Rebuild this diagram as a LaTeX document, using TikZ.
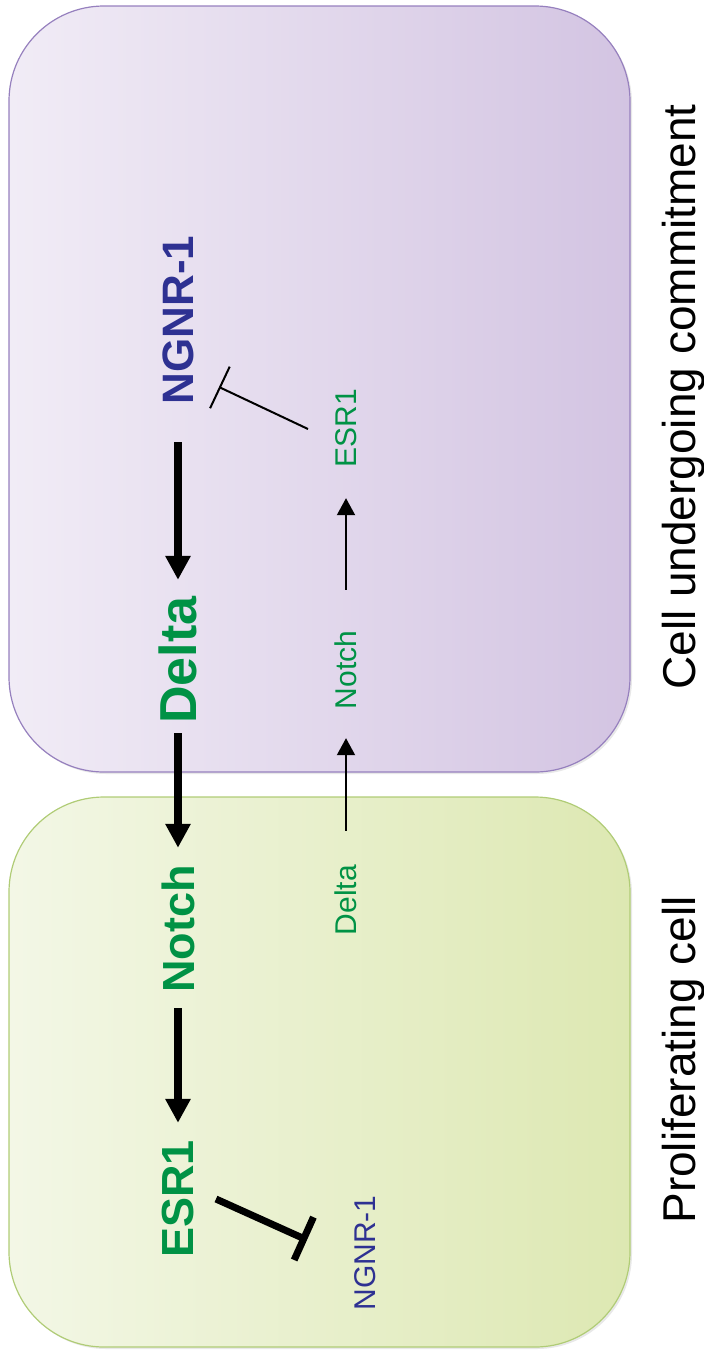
\documentclass[tikz,border=0pt]{standalone}
\usepackage{fontspec}
\setmainfont{Liberation Sans}
\usetikzlibrary{arrows.meta,shadows}
\definecolor{geneblue}{RGB}{46,49,146}
\definecolor{genegreen}{RGB}{0,146,69}
\definecolor{purpL}{RGB}{241,236,246}
\definecolor{purpR}{RGB}{211,196,226}
\definecolor{purpB}{RGB}{150,128,190}
\definecolor{grnL}{RGB}{243,247,230}
\definecolor{grnR}{RGB}{221,232,178}
\definecolor{grnB}{RGB}{176,204,118}
\begin{document}
\begin{tikzpicture}[x=1pt,y=-1pt,
  cellbox/.style={rounded corners=95pt, line width=1.2pt,
    drop shadow={opacity=0.18, shadow xshift=2pt, shadow yshift=-2pt}},
  biglbl/.style={rotate=90, inner sep=0pt, font=\bfseries\fontsize{45}{54}\selectfont},
  smalllbl/.style={rotate=90, inner sep=0pt, font=\fontsize{30}{36}\selectfont},
  celllbl/.style={rotate=90, inner sep=0pt, anchor=base, font=\fontsize{46}{55}\selectfont},
  bigarrow/.style={-{Triangle[length=24pt,width=24pt]}, line width=7.5pt},
  thinarrow/.style={-{Triangle[length=17pt,width=18pt]}, line width=2pt},
  thininh/.style={-{Bar[width=46pt]}, line width=2pt},
  thickinh/.style={-{Bar[width=47pt]}, line width=7pt}
]
\useasboundingbox (0,0) rectangle (704,1353);
% cell boxes
\path[cellbox, draw=purpB, left color=purpL, right color=purpR] (9,6) rectangle (630,772);
\path[cellbox, draw=grnB, left color=grnL, right color=grnR] (9,797) rectangle (630,1347);
% cell labels
\node[celllbl] (lblcommit) at (695,397) {Cell undergoing commitment};
\node[celllbl] (lblprolif) at (695,1060) {Proliferating cell};
% big labels (left column)
\node[biglbl, text=geneblue, font=\bfseries\fontsize{44}{53}\selectfont] (ngnr) at (178,320) {NGNR-1};
\node[biglbl, text=genegreen, font=\bfseries\fontsize{52}{62}\selectfont] (delta) at (178,660) {Delta};
\node[biglbl, text=genegreen] (notch) at (178,929) {Notch};
\node[biglbl, text=genegreen] (esr) at (178,1199) {ESR1};
% small labels (right column)
\node[smalllbl, text=genegreen] (esrs) at (346,428) {ESR1};
\node[smalllbl, text=genegreen] (notchs) at (346,670) {Notch};
\node[smalllbl, text=genegreen] (deltas) at (346,900) {Delta};
\node[smalllbl, text=geneblue] (ngnrs) at (365,1253) {NGNR-1};
% big arrows
\draw[bigarrow, shorten <=37.7pt, shorten >=16.4pt] (ngnr) -- (delta);
\draw[bigarrow, shorten <=9.4pt, shorten >=17.3pt] (delta) -- (notch);
\draw[bigarrow, shorten <=15.3pt, shorten >=17.2pt] (notch) -- (esr);
% thin arrows
\draw[thinarrow, shorten <=34pt, shorten >=28.8pt] (deltas) -- (notchs);
\draw[thinarrow, shorten <=40.8pt, shorten >=30.8pt] (notchs) -- (esrs);
% inhibition
\coordinate (i1s) at (308,429);
\coordinate (i1e) at (219,387);
\draw[thininh] (i1s) -- (i1e);
\coordinate (i2s) at (216,1199);
\coordinate (i2e) at (307,1240);
\draw[thickinh] (i2s) -- (i2e);
\end{tikzpicture}
\end{document}
